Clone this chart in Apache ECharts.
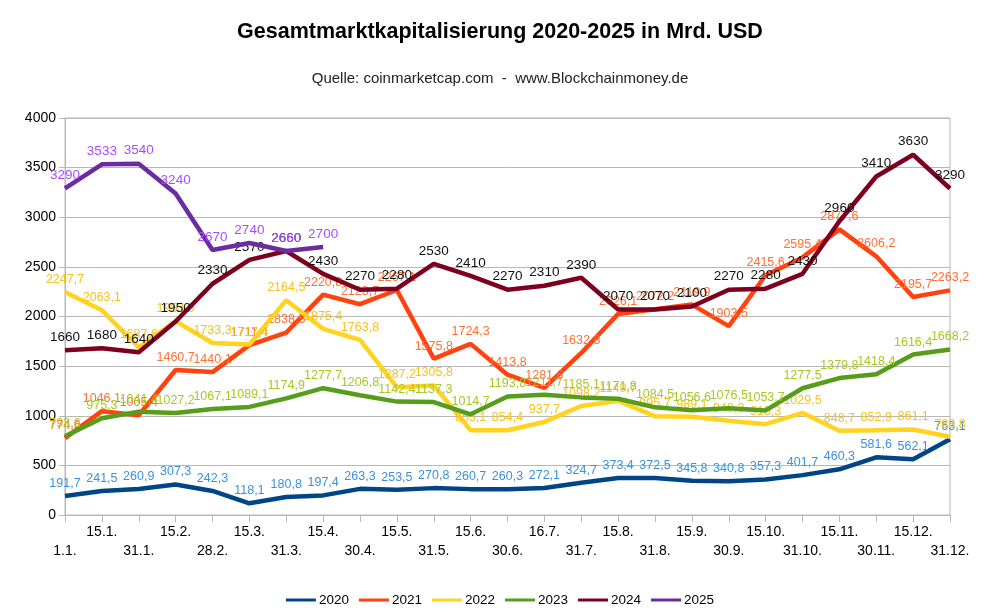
<!DOCTYPE html>
<html>
<head>
<meta charset="utf-8">
<script src="https://cdn.jsdelivr.net/npm/echarts@6/dist/echarts.min.js"></script>
<style>html,body{margin:0;padding:0;background:#fff}#c{width:1000px;height:613px}</style>
</head>
<body>
<div id="c"></div>
<script>
var categories = ['1.1.','15.1.','31.1.','15.2.','28.2.','15.3.','31.3.','15.4.','30.4.','15.5.','31.5.','15.6.','30.6.','16.7.','31.7.','15.8.','31.8.','15.9.','30.9.','15.10.','31.10.','15.11.','30.11.','15.12.','31.12.'];
var yTicks = [0, 500, 1000, 1500, 2000, 2500, 3000, 3500, 4000];
var seriesNames = ['2020','2021','2022','2023','2024','2025'];
var v2020 = [191.7,241.5,260.9,307.3,242.3,118.1,180.8,197.4,263.3,253.5,270.8,260.7,260.3,272.1,324.7,373.4,372.5,345.8,340.8,357.3,401.7,460.3,581.6,562.1,763.1];
var v2021 = [774.6,1046.1,1005.4,1460.7,1440.1,1711.4,1838.5,2220.8,2123.7,2267.1,1575.8,1724.3,1413.8,1281.6,1632.8,2026.1,2072.2,2119.9,1903.5,2415.6,2595.4,2877.6,2606.2,2195.7,2263.2];
var v2022 = [2247.7,2063.1,1687.6,1953.9,1733.3,1717.4,2164.5,1875.4,1763.8,1287.2,1305.8,853.1,854.4,937.7,1098.2,1149.7,995.7,989.1,949.3,915.3,1029.5,848.7,852.9,861.1,788.8];
var v2023 = [793.6,975.3,1041.4,1027.2,1067.1,1089.1,1174.9,1277.7,1206.8,1142.4,1137.3,1014.7,1193.8,1211.7,1185.1,1171.8,1084.5,1056.6,1076.5,1053.7,1277.5,1379.8,1418.4,1616.4,1668.2];
var v2024 = [1660,1680,1640,1950,2330,2570,2660,2430,2270,2280,2530,2410,2270,2310,2390,2070,2070,2100,2270,2280,2430,2960,3410,3630,3290];
var v2025 = [3290,3533,3540,3240,2670,2740,2660,2700];

var lineColors = ['#004586','#ff420e','#ffd320','#579d1c','#7e0021','#6a2c9e'];
var labelColors = ['#3a92dc','#ff7034','#f7c21a','#a8c824','#111111','#a94cff'];
var labelSizes = [12.5, 12.5, 12.5, 12.5, 13.5, 13.5];
var allData = [v2020, v2021, v2022, v2023, v2024, v2025];

function fmt(p){ return String(p.value).replace('.', ','); }

var series = seriesNames.map(function(n, i){
  return {
    name: n, type: 'line', data: allData[i], symbol: 'circle', symbolSize: 0, showSymbol: true,
    lineStyle: {width: 4.5, color: lineColors[i]},
    itemStyle: {color: lineColors[i]},
    label: {show: true, position: 'top', distance: 6, formatter: fmt,
      color: labelColors[i], fontSize: labelSizes[i], fontFamily: 'Liberation Sans'},
    labelLayout: {hideOverlap: false},
    z: 2 + i
  };
});

var chart = echarts.init(document.getElementById('c'));
chart.setOption({
  animation: false,
  textStyle: {fontFamily: 'Liberation Sans'},
  title: [
    {text: 'Gesamtmarktkapitalisierung 2020-2025 in Mrd. USD', left: 'center', top: 16,
     textStyle: {fontSize: 21.5, fontWeight: 'bold', color: '#000', fontFamily: 'Liberation Sans'}},
    {text: 'Quelle: coinmarketcap.com  -  www.Blockchainmoney.de', left: 'center', top: 66,
     textStyle: {fontSize: 15, fontWeight: 'normal', color: '#222', fontFamily: 'Liberation Sans'}}
  ],
  legend: {
    data: seriesNames, bottom: 1, left: 'center', icon: 'rect', itemWidth: 30, itemHeight: 3, itemGap: 10,
    textStyle: {fontSize: 13.5, color: '#000', padding: [0, 0, 0, -2]}
  },
  grid: {left: 65, right: 50, top: 118, bottom: 98, show: true, borderColor: '#b8b8b8', borderWidth: 1},
  xAxis: {
    type: 'category', data: categories, boundaryGap: false,
    axisLine: {lineStyle: {color: '#b8b8b8'}},
    axisTick: {show: true, alignWithLabel: true, length: 7, lineStyle: {color: '#b8b8b8'}},
    axisLabel: {interval: 0, color: '#000', fontSize: 14, lineHeight: 19, margin: 8,
      formatter: function(v, idx){ return idx % 2 === 0 ? '\n' + v : v; }},
    splitLine: {show: false}
  },
  yAxis: {
    type: 'value', min: yTicks[0], max: yTicks[yTicks.length-1], interval: 500,
    axisLine: {show: true, lineStyle: {color: '#b8b8b8'}},
    axisTick: {show: true, length: 6, lineStyle: {color: '#b8b8b8'}},
    axisLabel: {color: '#000', fontSize: 14, margin: 9, formatter: function(v){ return String(v); }},
    splitLine: {lineStyle: {color: '#b8b8b8'}}
  },
  series: series
});
</script>
</body>
</html>
